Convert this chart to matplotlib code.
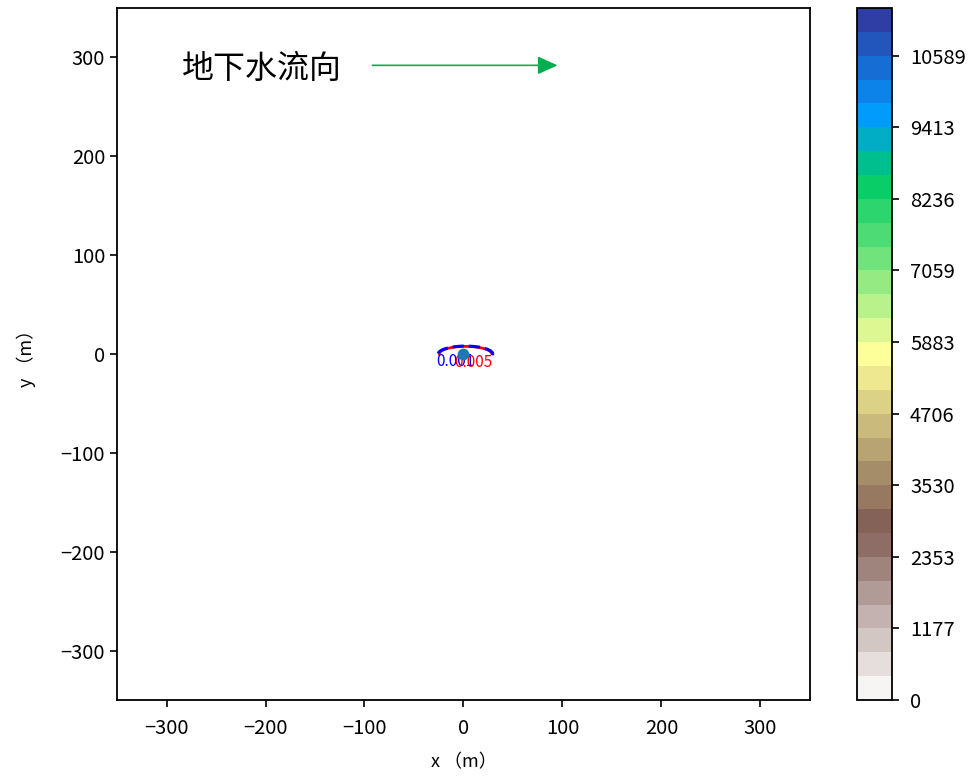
import numpy as np
import matplotlib
matplotlib.use("Agg")
import matplotlib.pyplot as plt

plt.rcParams['font.family'] = ['Noto Sans CJK SC', 'DejaVu Sans']
plt.rcParams['axes.unicode_minus'] = True

# ---------------- data ----------------
c_max = 11373.5              # top of colour scale
n_levels = 30                # contourf boundaries (29 bands)
source_x = [0.0]
source_y = [0.0]
plume_xc = 2.0               # centre of the plume contour (m)
plume_yc = 0.0
plume_a = 27.5               # half length along x (m)
plume_b = 8.0                # half width along y (m)
plume_y_min = -1.0           # lower edge of the computed plume grid (m)
blue_level = [0.001]
red_level = [0.005]
blue_label_pos = (-8.5, -7.8)
red_label_pos = (10.0, -8.6)
x_ticks = [-300, -200, -100, 0, 100, 200, 300]
y_ticks = [-300, -200, -100, 0, 100, 200, 300]
lim = 350
flow_text = "地下水流向"
flow_text_xy = (-284, 288)
arrow_start = (-92, 292)
arrow_end = (95, 292)

# ---------------- fields ----------------
gx = np.linspace(-50, 50, 801)
gy = np.linspace(-50, 50, 801)
X, Y = np.meshgrid(gx, gy)
R = np.hypot(X - source_x[0], Y - source_y[0])
Z = c_max * np.exp(-(R / 1.2) ** 2)
Z = np.ma.masked_less(Z, 1.0)

px = np.linspace(-50, 50, 801)
py = np.linspace(plume_y_min, 30, 400)
PX, PY = np.meshgrid(px, py)
G = ((PX - plume_xc) / plume_a) ** 2 + ((PY - plume_yc) / plume_b) ** 2
L = 0.01 * 10.0 ** (-(G ** 16))

levels = np.linspace(0, c_max, n_levels)

# ---------------- figure ----------------
fig = plt.figure(figsize=(9.78, 7.78), dpi=100)
ax = fig.add_axes([117 / 978, 78 / 778, 693 / 978, 692 / 778])
cax = fig.add_axes([857 / 978, 78 / 778, 35 / 978, 692 / 778])

cf = ax.contourf(X, Y, Z, levels=levels, cmap='terrain_r')

cs_r = ax.contour(PX, PY, L, levels=red_level, colors='red', linewidths=2.0,
                  linestyles='solid')
cs_b = ax.contour(PX, PY, L, levels=blue_level, colors='blue', linewidths=2.2,
                  linestyles='dashed')
ax.text(blue_label_pos[0], blue_label_pos[1], '%.3f' % blue_level[0],
        color='blue', fontsize=11, ha='center', va='center')
ax.text(red_label_pos[0], red_label_pos[1], '%.3f' % red_level[0],
        color='red', fontsize=11, ha='center', va='center')

ax.scatter(source_x, source_y, s=55, color='#1f77b4', zorder=5)

ax.text(flow_text_xy[0], flow_text_xy[1], flow_text, fontsize=23,
        ha='left', va='center', color='black')
ax.annotate('', xy=arrow_end, xytext=arrow_start,
            arrowprops=dict(arrowstyle='-|>,head_length=0.55,head_width=0.25',
                            color='#00b050', lw=1.2, mutation_scale=22,
                            shrinkA=0, shrinkB=0))

ax.set_xlim(-lim, lim)
ax.set_ylim(-lim, lim)
ax.set_xticks(x_ticks)
ax.set_yticks(y_ticks)
ax.tick_params(labelsize=14.5, length=5, width=1.2)
ax.tick_params(axis='x', pad=8)
for s in ax.spines.values():
    s.set_linewidth(1.3)
ax.set_xlabel('x （m）', fontsize=13, labelpad=10)
ax.set_ylabel('y （m）', fontsize=13)
ax.yaxis.set_label_coords(-0.117, 0.5)

cbar = fig.colorbar(cf, cax=cax, format='%.0f')
cbar.set_ticks(levels[::3])
cbar.ax.tick_params(labelsize=14.5, length=5, width=1.2, pad=8)
cbar.outline.set_linewidth(1.3)

fig.savefig('out.png', dpi=100)
